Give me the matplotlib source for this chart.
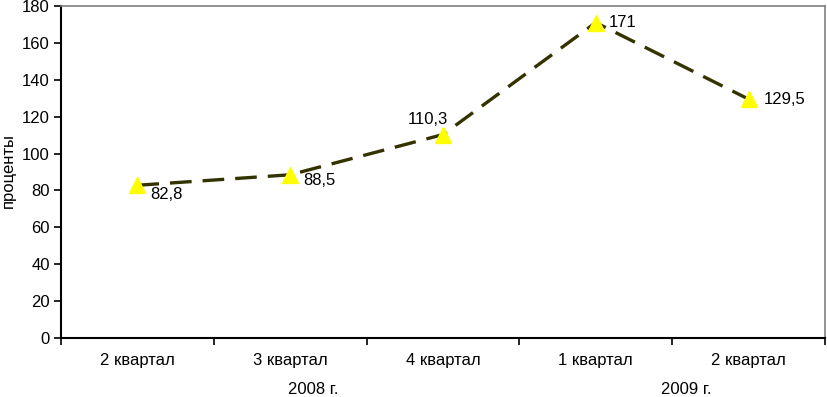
import matplotlib
matplotlib.use("Agg")
import matplotlib.pyplot as plt
import numpy as np

categories = ["2 квартал", "3 квартал", "4 квартал", "1 квартал", "2 квартал"]
years = ["2008 г.", "2009 г."]
values = [82.8, 88.5, 110.3, 171, 129.5]
value_labels = ["82,8", "88,5", "110,3", "171", "129,5"]

plt.rcParams['font.family'] = ['Liberation Sans', 'DejaVu Sans']
FS = 12

fig = plt.figure(figsize=(8.27, 3.97), dpi=100)
ax = fig.add_axes([61/827, 1-338/397, (825-61)/827, (338-6)/397])

x = np.arange(len(values))
ax.plot(x, values, color='#333300', lw=2.4, dashes=(6.5, 3.3),
        marker='^', markersize=12, markerfacecolor='#FFFF00',
        markeredgecolor='#FFFF00', zorder=3)

px = 0.72  # points per pixel
offsets = [(13, -9, 'left'), (13, -6, 'left'), (5, 15, 'right'), (13, 0, 'left'), (15, 0, 'left')]
for xi, v, lab, (dx, dy, ha) in zip(x, values, value_labels, offsets):
    ax.annotate(lab, (xi, v), xytext=(dx * px, dy * px), textcoords='offset points',
                ha=ha, va='center', fontsize=FS)

ax.set_xlim(-0.5, len(values) - 0.5)
ax.set_ylim(0, 180)
ax.set_yticks(np.arange(0, 181, 20))
ax.tick_params(axis='y', direction='out', length=5, width=1.2, labelsize=FS, pad=3)

ax.set_xticks(x)
ax.set_xticklabels(categories, fontsize=FS)
ax.tick_params(axis='x', which='major', length=0, pad=11)
ax.set_xticks(np.arange(-0.5, len(values)), minor=True)
ax.tick_params(axis='x', which='minor', direction='out', length=5, width=1.2)

for s in ['left', 'bottom']:
    ax.spines[s].set_color('black')
    ax.spines[s].set_linewidth(1.5)
for s in ['top', 'right']:
    ax.spines[s].set_color('#808080')
    ax.spines[s].set_linewidth(1.2)

# year group labels
ax.text(1.15, -0.155, years[0], transform=ax.get_xaxis_transform(), ha='center', va='center', fontsize=FS)
ax.text(3.59, -0.155, years[1], transform=ax.get_xaxis_transform(), ha='center', va='center', fontsize=FS)

fig.text(8/827, 1-170/397, "проценты", rotation=90, ha='center', va='center', fontsize=FS)

fig.savefig("out.png", dpi=100)
